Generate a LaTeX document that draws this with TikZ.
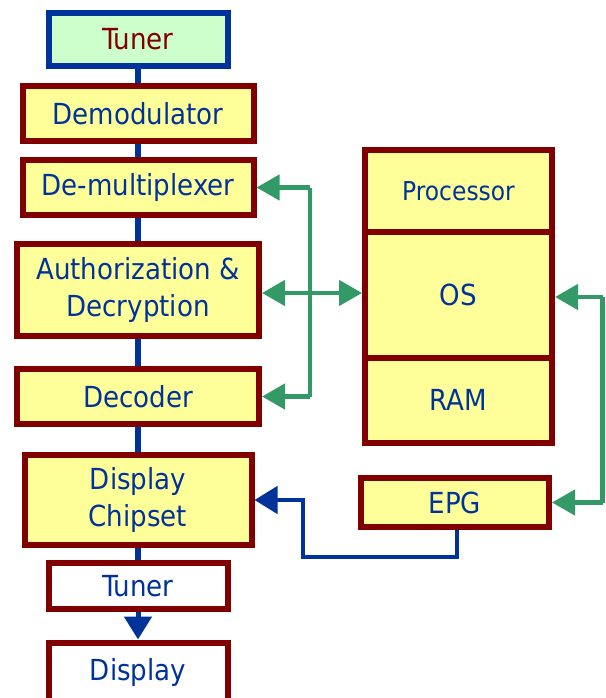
\documentclass[tikz,border=0pt]{standalone}
\usepackage{fontspec}
\setmainfont{DejaVu Sans Condensed}
\usetikzlibrary{arrows.meta}
\definecolor{dred}{HTML}{800000}
\definecolor{dblue}{HTML}{003399}
\definecolor{lyellow}{HTML}{FFFF99}
\definecolor{lgreen}{HTML}{CCFFCC}
\definecolor{gline}{HTML}{339966}
\begin{document}
\begin{tikzpicture}[x=1pt,y=-1pt,
  box/.style={draw=dred, line width=6pt, fill=lyellow, text=dblue,
    font=\fontsize{29}{37}\selectfont, align=center, inner sep=0pt},
  wbox/.style={box, fill=white},
  tbox/.style={box, draw=dblue, fill=lgreen, text=dred},
  gconn/.style={draw=gline, line width=4.5pt},
  bconn/.style={draw=dblue, line width=4.5pt},
  cline/.style={draw=dblue, line width=6pt},
  gtip/.style={-{Triangle[length=23pt,width=25pt]}},
  gtips/.style={{Triangle[length=23pt,width=25pt]}-{Triangle[length=23pt,width=25pt]}},
  btip/.style={-{Triangle[length=23pt,width=27pt]}}
]
\useasboundingbox (0,0) rectangle (605,698);
\begin{scope}
\clip (0,0) rectangle (605,698);
% left column
\node[tbox, minimum width=179pt, minimum height=53pt] (tuner1) at (138,39.5) {Tuner};
\node[box, minimum width=231pt, minimum height=55pt] (demod) at (138,113.5) {Demodulator};
\node[box, minimum width=231pt, minimum height=55pt] (demux) at (138,187.5) {De-multiplexer};
\node[box, minimum width=242pt, minimum height=92pt] (auth) at (138,290) {Authorization \&\\Decryption};
\node[box, minimum width=242pt, minimum height=55pt] (decoder) at (138,396.5) {Decoder};
\node[box, minimum width=227pt, minimum height=90pt] (chip) at (138,500) {Display\\Chipset};
\node[wbox, minimum width=179pt, minimum height=46pt] (tuner2) at (138,586) {Tuner};
\node[wbox, minimum width=179pt, minimum height=59pt] (display) at (138,672) {Display};
% right column
\node[box, minimum width=187pt, minimum height=82.5pt, font=\fontsize{26}{30}\selectfont] (proc) at (458.5,190.75) {Processor};
\node[box, minimum width=187pt, minimum height=126pt] (os) at (458.5,295) {OS};
\node[box, minimum width=187pt, minimum height=84.5pt] (ram) at (458.5,400.25) {RAM};
\node[box, minimum width=188pt, minimum height=49pt] (epg) at (455,502.5) {EPG};
% central blue line
\draw[cline] (tuner1.south) -- (demod.north);
\draw[cline] (demod.south) -- (demux.north);
\draw[cline] (demux.south) -- (auth.north);
\draw[cline] (auth.south) -- (decoder.north);
\draw[cline] (decoder.south) -- (chip.north);
\draw[cline] (chip.south) -- (tuner2.north);
\draw[bconn, line width=5pt, btip] (tuner2.south) -- (display.north);
% green bus
\coordinate (gt) at (310,187.5);
\coordinate (gb) at (310,396.5);
\coordinate (gm) at (310,293);
\draw[gconn] (gt) -- (gb);
\draw[gconn, gtip] (gt) -- (demux.east);
\draw[gconn, gtip] (gb) -- (decoder.east);
\draw[gconn, gtips] (auth.east |- gm) -- (os.west |- gm);
% right green
\coordinate (r1) at (602.5,297);
\coordinate (r2) at (602.5,502.5);
\draw[gconn] (r1) -- (r2);
\draw[gconn, gtip] (r1) -- (os.east |- r1);
\draw[gconn, gtip] (r2) -- (epg.east);
% EPG to display chipset
\coordinate (b0) at (457,557);
\coordinate (b1) at (303,557);
\draw[bconn, btip] (b0 |- epg.south) -- (b0) -- (b1) -- (b1 |- chip.east) -- (chip.east);
\end{scope}
\end{tikzpicture}
\end{document}
